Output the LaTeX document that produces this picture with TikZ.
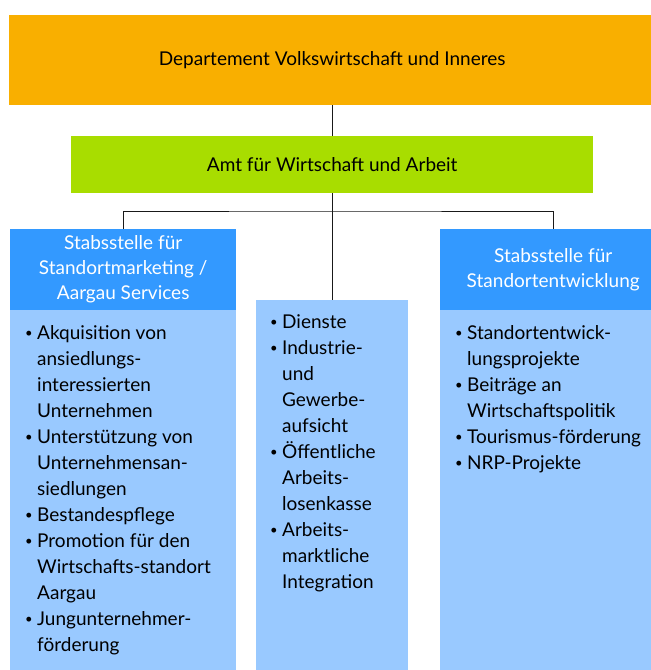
\documentclass[tikz,border=0pt]{standalone}
\usepackage{fontspec}
\setmainfont{Lato}
\usetikzlibrary{positioning}

\definecolor{deporange}{RGB}{249,175,0}
\definecolor{amtgreen}{RGB}{168,221,0}
\definecolor{headblue}{RGB}{51,153,255}
\definecolor{bodyblue}{RGB}{153,201,255}

\newcommand{\bul}{\makebox[12pt][l]{\raisebox{1.5pt}{\fontsize{13}{13}\selectfont\textbullet}}}
\newcommand{\cont}{\hspace*{12pt}}

\begin{document}
\begin{tikzpicture}[x=1pt,y=-1pt,
        unit/.style={anchor=north west, inner sep=0pt, font=\fontsize{19}{25}\selectfont},
        depbox/.style={unit, fill=deporange},
        amtbox/.style={unit, fill=amtgreen},
        headbox/.style={unit, fill=headblue, text=white, align=center},
        bodybox/.style={unit, fill=bodyblue},
        listtext/.style={anchor=base west, inner sep=0pt, align=left, font=\fontsize{19}{26}\selectfont},
        link/.style={draw=black!90, line width=0.8pt}]
    \clip (0,0) rectangle (651,670);
    \fill[white] (0,0) rectangle (651,670);
    % top levels
    \node[depbox, minimum width=646pt, minimum height=90pt] (dep) at (9,15) {Departement Volkswirtschaft und Inneres};
    \node[amtbox, minimum width=522pt, minimum height=57pt] (amt) at (71,136) {Amt für Wirtschaft und Arbeit};
    % three units
    \node[headbox, minimum width=226pt, minimum height=81pt] (lhead) at (10,229) {Stabsstelle für\\Standortmarketing /\\Aargau Services};
    \node[bodybox, minimum width=226pt, minimum height=362pt] (lbody) at (10,310) {};
    \node[bodybox, minimum width=152pt, minimum height=372pt] (mbody) at (256,300) {};
    \node[headbox, minimum width=226pt, minimum height=81pt] (rhead) at (440,229) {Stabsstelle für\\Standortentwicklung};
    \node[bodybox, minimum width=226pt, minimum height=362pt] (rbody) at (440,310) {};
    % lists (placed at the baseline of their last line)
    \node[listtext] (llist) at (25,651) {\bul Akquisition von\\ \cont ansiedlungs-\\ \cont interessierten\\ \cont Unternehmen\\
        \bul Unterstützung von\\ \cont Unternehmensan-\\ \cont siedlungen\\ \bul Bestandespflege\\
        \bul Promotion für den\\ \cont Wirtschafts-standort\\ \cont Aargau\\ \bul Jungunternehmer-\\ \cont förderung};
    \node[listtext] (mlist) at (270,588) {\bul Dienste\\ \bul Industrie-\\ \cont und\\ \cont Gewerbe-\\ \cont aufsicht\\
        \bul Öffentliche\\ \cont Arbeits-\\ \cont losenkasse\\ \bul Arbeits-\\ \cont marktliche\\ \cont Integration};
    \node[listtext] (rlist) at (455,469) {\bul Standortentwick-\\ \cont lungsprojekte\\ \bul Beiträge an\\ \cont Wirtschaftspolitik\\
        \bul Tourismus-förderung\\ \bul NRP-Projekte};
    % connectors
    \coordinate (bus) at (332,211);
    \draw[link] (dep.south) -- (amt.north);
    \draw[link] (amt.south) -- (mbody.north);
    \draw[link] (lhead.north) |- (bus) -| (rhead.north);
\end{tikzpicture}
\end{document}
